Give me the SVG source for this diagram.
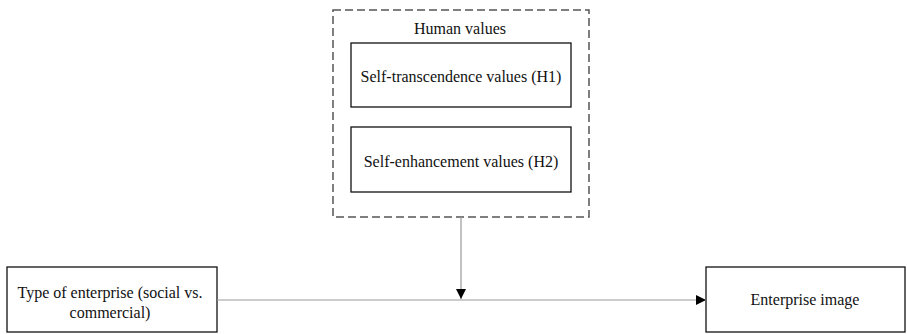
<svg xmlns="http://www.w3.org/2000/svg" width="907" height="334" viewBox="0 0 907 334">
<defs>
<style>
text{font-family:'Liberation Serif','Times New Roman','DejaVu Serif',serif;font-size:16px;fill:#111;text-anchor:middle}
.box{fill:#fff;stroke:#111;stroke-width:1.3}
.dash{fill:none;stroke:#555;stroke-width:1.5;stroke-dasharray:8,4}
.conn{stroke:#999;stroke-width:1.2;fill:none}
</style>
<marker id="ah" viewBox="0 0 10 10" refX="10" refY="5" markerWidth="10" markerHeight="10" markerUnits="userSpaceOnUse" orient="auto">
<path d="M0,0 L10,5 L0,10 z" fill="#000"/>
</marker>
</defs>
<rect width="907" height="334" fill="#fff"/>
<g id="human-values">
<rect class="dash" x="333" y="10" width="256" height="207"/>
<text x="460" y="34">Human values</text>
</g>
<g id="self-transcendence">
<rect class="box" x="351" y="43" width="220" height="64"/>
<text x="461" y="82">Self-transcendence values (H1)</text>
</g>
<g id="self-enhancement">
<rect class="box" x="351" y="127" width="220" height="65"/>
<text x="461" y="167">Self-enhancement values (H2)</text>
</g>
<g id="type-of-enterprise">
<rect class="box" x="7" y="267" width="210" height="65"/>
<text x="110" y="298">Type of enterprise (social vs.</text>
<text x="110" y="318">commercial)</text>
</g>
<g id="enterprise-image">
<rect class="box" x="706" y="267" width="199" height="65"/>
<text x="805" y="305">Enterprise image</text>
</g>
<g id="connectors">
<line class="conn" x1="217" y1="300" x2="706" y2="300" marker-end="url(#ah)"/>
<line class="conn" x1="461" y1="217" x2="461" y2="299" marker-end="url(#ah)"/>
</g>
</svg>
